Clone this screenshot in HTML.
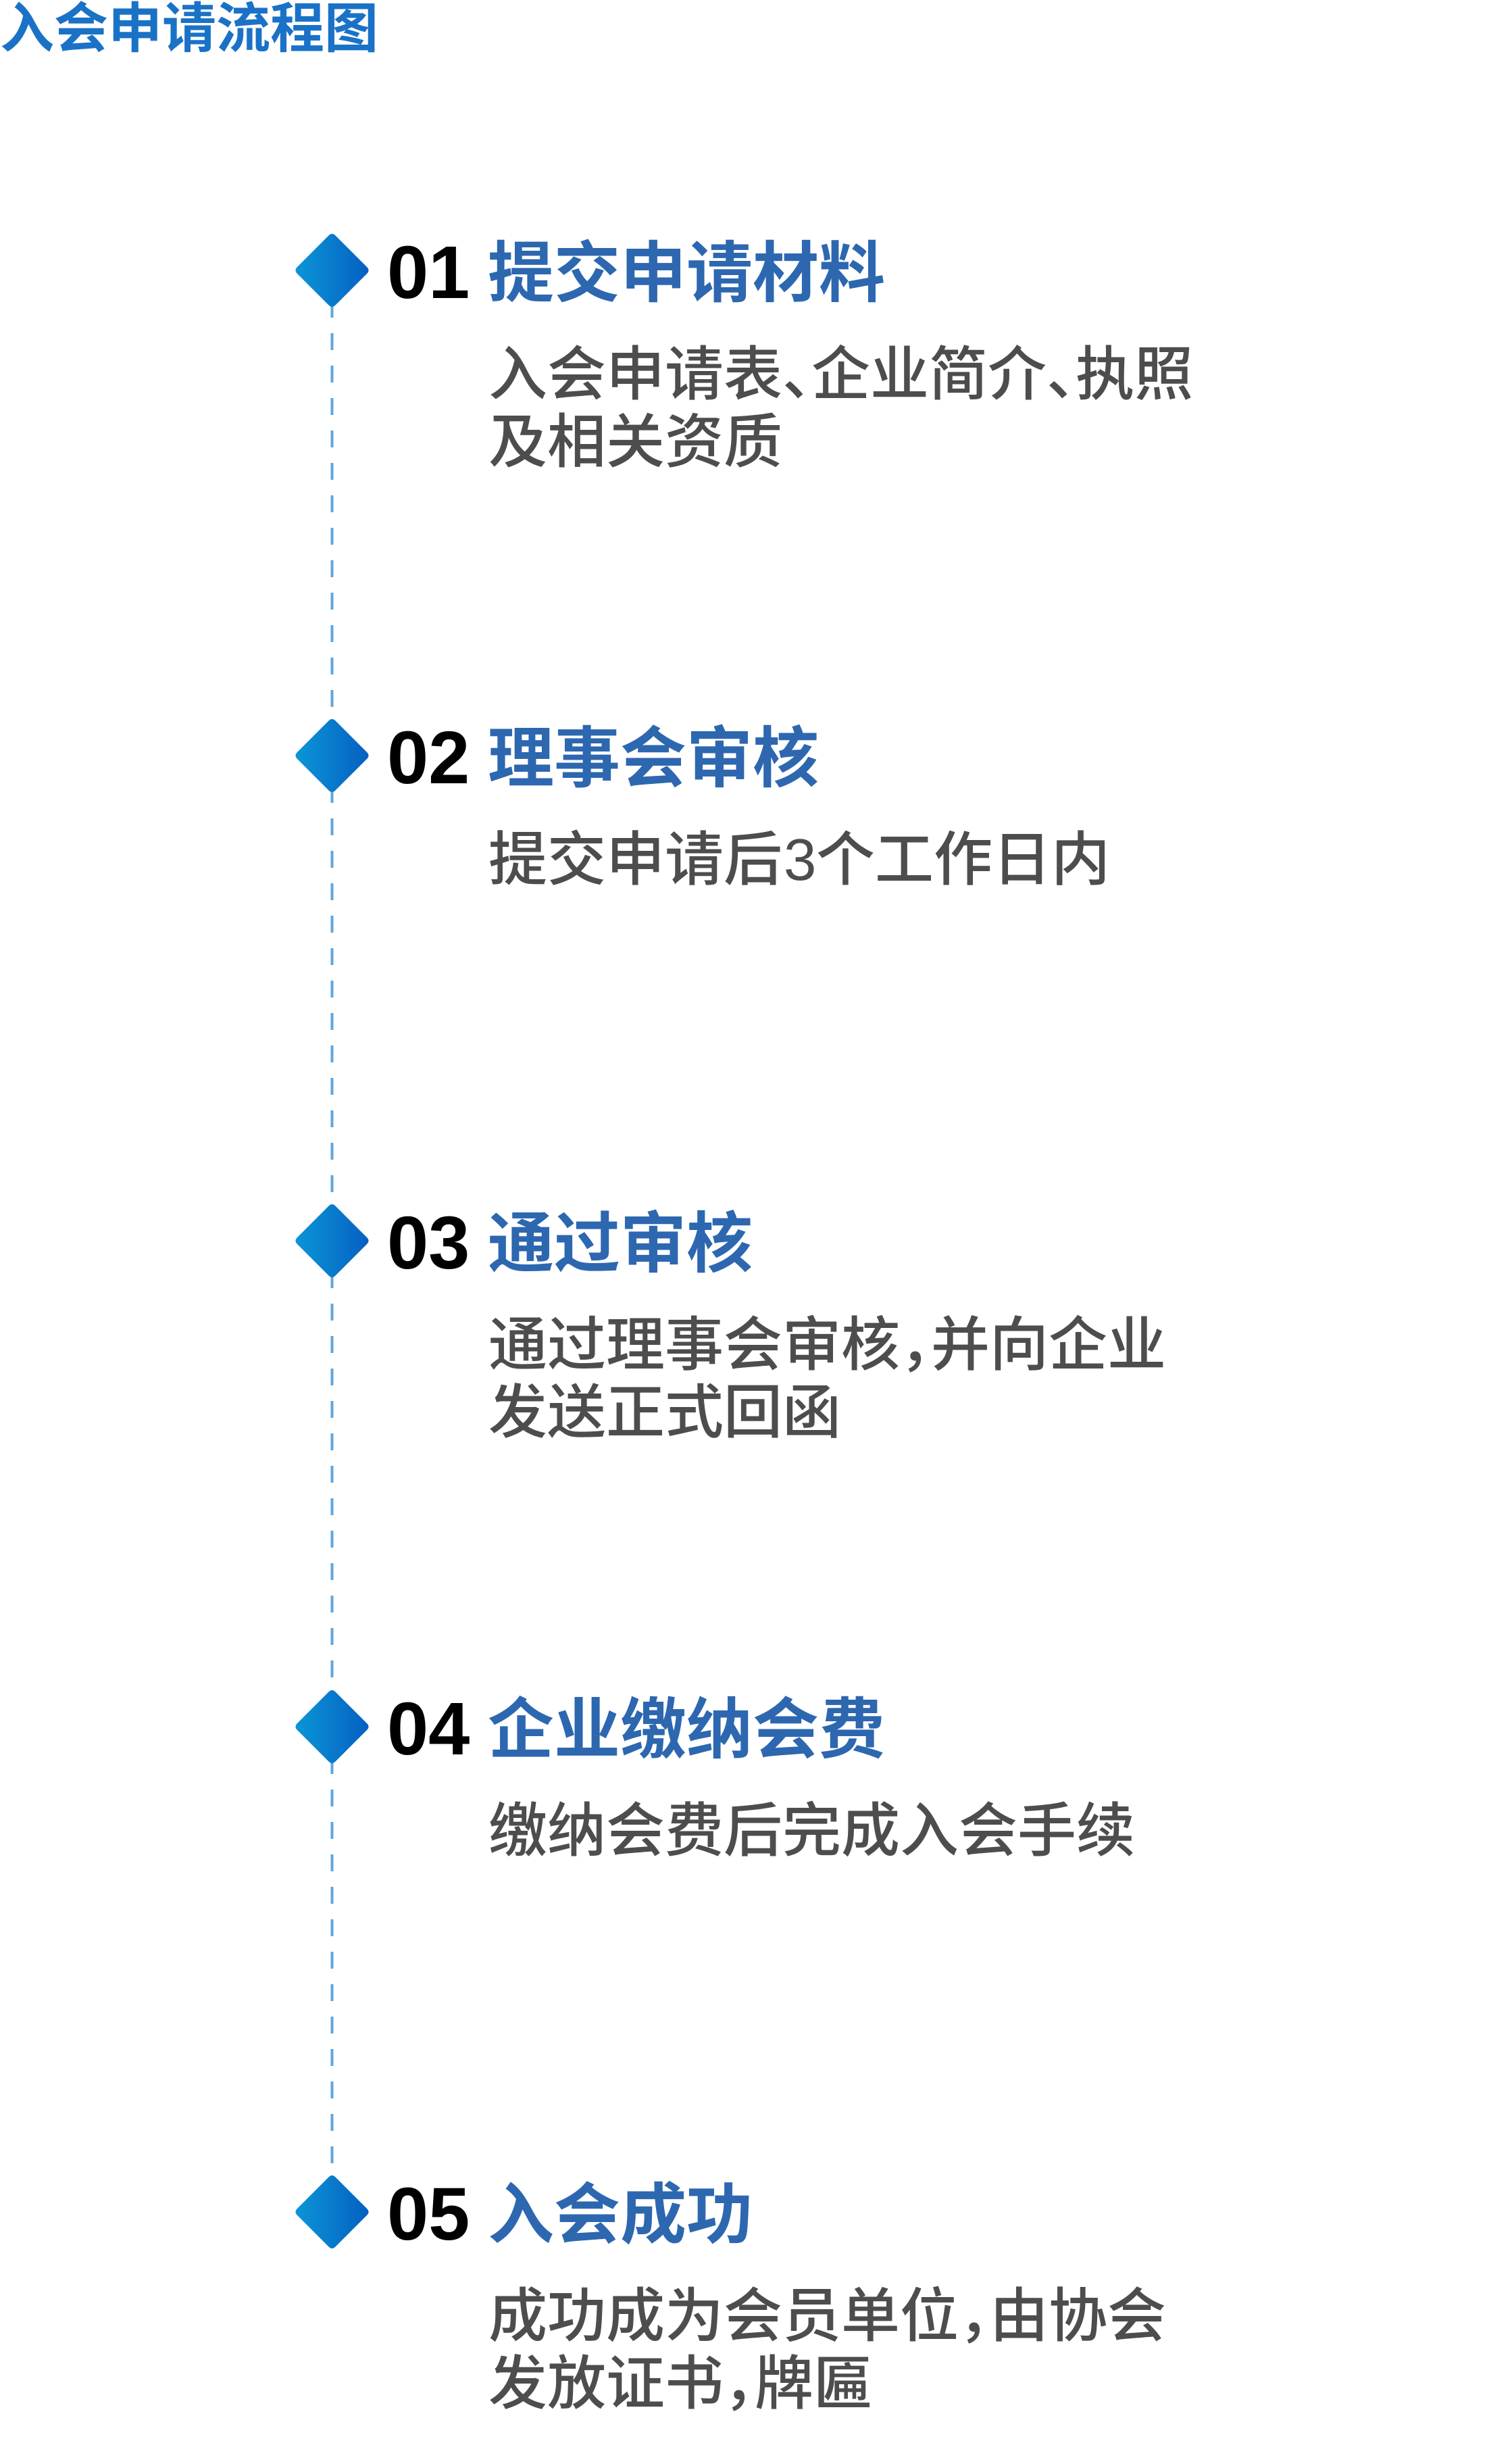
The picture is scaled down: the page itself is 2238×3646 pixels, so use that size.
<!DOCTYPE html>
<html>
<head>
<meta charset="utf-8">
<style>
  html, body { margin: 0; padding: 0; background: #ffffff; }
  body { width: 2238px; height: 3646px; overflow: hidden; }
  svg { display: block; }
  .title { font-family: "Liberation Sans", "Noto Sans CJK SC", sans-serif; font-weight: 700; font-size: 80px; fill: #1a72c7; }
  .num { font-family: "Liberation Sans", "Noto Sans CJK SC", sans-serif; font-weight: 700; font-size: 110px; fill: #000000; }
  .head { font-family: "Liberation Sans", "Noto Sans CJK SC", sans-serif; font-weight: 700; font-size: 98px; fill: #2d67b0; }
  .desc { font-family: "Liberation Sans", "Noto Sans CJK SC", sans-serif; font-weight: 500; font-size: 87px; fill: #4d4d4d; }
</style>
</head>
<body>
<svg width="2238" height="3646" viewBox="0 0 2238 3646" xmlns="http://www.w3.org/2000/svg">
  <defs>
    <linearGradient id="dg" x1="0" y1="0" x2="1" y2="0">
      <stop offset="0" stop-color="#0b95d6"/>
      <stop offset="1" stop-color="#0560c2"/>
    </linearGradient>
  </defs>

  <!-- Title -->
  <text class="title" x="0" y="70">入会申请流程图</text>

  <!-- Dashed connectors -->
  <g stroke="#5ea6de" stroke-width="4" stroke-dasharray="25 23" fill="none">
    <line x1="491.5" y1="445" x2="491.5" y2="1068"/>
    <line x1="491.5" y1="1163" x2="491.5" y2="1786"/>
    <line x1="491.5" y1="1881" x2="491.5" y2="2505"/>
    <line x1="491.5" y1="2600" x2="491.5" y2="3223"/>
  </g>

  <!-- Diamonds -->
  <g fill="url(#dg)">
    <path d="M496.5,348.5 L543,395 Q548,400 543,405 L496.5,451.5 Q491.5,456.5 486.5,451.5 L440,405 Q435,400 440,395 L486.5,348.5 Q491.5,343.5 496.5,348.5 Z"/>
    <path d="M496.5,1066.5 L543,1113 Q548,1118 543,1123 L496.5,1169.5 Q491.5,1174.5 486.5,1169.5 L440,1123 Q435,1118 440,1113 L486.5,1066.5 Q491.5,1061.5 496.5,1066.5 Z"/>
    <path d="M496.5,1784.5 L543,1831 Q548,1836 543,1841 L496.5,1887.5 Q491.5,1892.5 486.5,1887.5 L440,1841 Q435,1836 440,1831 L486.5,1784.5 Q491.5,1779.5 496.5,1784.5 Z"/>
    <path d="M496.5,2503.5 L543,2550 Q548,2555 543,2560 L496.5,2606.5 Q491.5,2611.5 486.5,2606.5 L440,2560 Q435,2555 440,2550 L486.5,2503.5 Q491.5,2498.5 496.5,2503.5 Z"/>
    <path d="M496.5,3221.5 L543,3268 Q548,3273 543,3278 L496.5,3324.5 Q491.5,3329.5 486.5,3324.5 L440,3278 Q435,3273 440,3268 L486.5,3221.5 Q491.5,3216.5 496.5,3221.5 Z"/>
  </g>

  <!-- Step 01 -->
  <text class="num" x="573" y="441">01</text>
  <text class="head" x="722" y="438">提交申请材料</text>
  <text class="desc" y="584"><tspan x="723">入会申请表</tspan><tspan x="1158">、</tspan><tspan x="1201">企业简介</tspan><tspan x="1549">、</tspan><tspan x="1592">执照</tspan></text>
  <text class="desc" x="723" y="684">及相关资质</text>

  <!-- Step 02 -->
  <text class="num" x="573" y="1159">02</text>
  <text class="head" x="722" y="1156">理事会审核</text>
  <text class="desc" y="1302"><tspan x="723">提交申请后</tspan><tspan x="1160">3</tspan><tspan x="1208">个工作日内</tspan></text>

  <!-- Step 03 -->
  <text class="num" x="573" y="1877">03</text>
  <text class="head" x="722" y="1874">通过审核</text>
  <text class="desc" y="2020"><tspan x="723">通过理事会审核</tspan><tspan x="1332">，</tspan><tspan x="1378">并向企业</tspan></text>
  <text class="desc" x="723" y="2120">发送正式回函</text>

  <!-- Step 04 -->
  <text class="num" x="573" y="2596">04</text>
  <text class="head" x="722" y="2593">企业缴纳会费</text>
  <text class="desc" x="723" y="2739">缴纳会费后完成入会手续</text>

  <!-- Step 05 -->
  <text class="num" x="573" y="3314">05</text>
  <text class="head" x="722" y="3311">入会成功</text>
  <text class="desc" y="3457"><tspan x="723">成功成为会员单位</tspan><tspan x="1419">，</tspan><tspan x="1465">由协会</tspan></text>
  <text class="desc" y="3557"><tspan x="723">发放证书</tspan><tspan x="1071">，</tspan><tspan x="1117">牌匾</tspan></text>
</svg>
</body>
</html>
